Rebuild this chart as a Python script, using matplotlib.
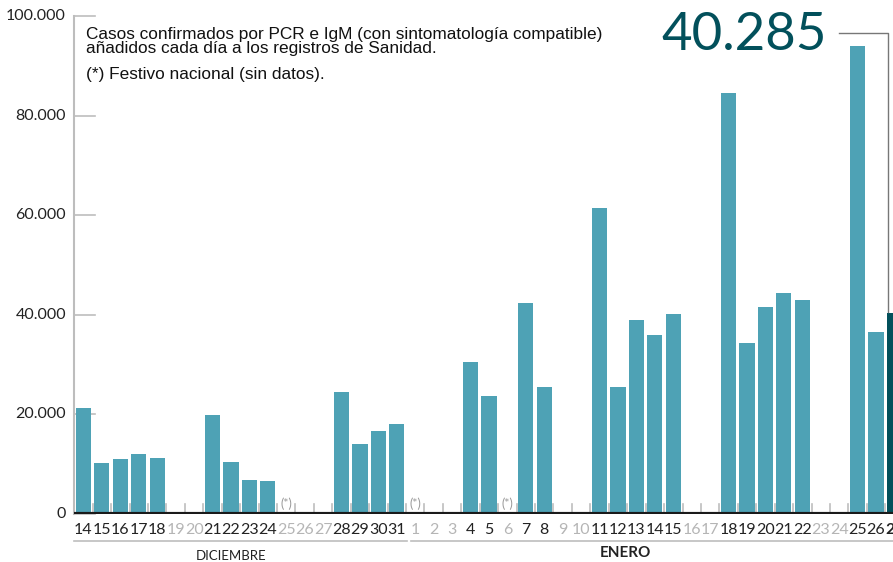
import matplotlib
matplotlib.use("Agg")
import matplotlib.pyplot as plt

# ---- data ----
day_labels = ["14","15","16","17","18","19","20","21","22","23","24","25","26","27","28","29","30","31",
              "1","2","3","4","5","6","7","8","9","10","11","12","13","14","15","16","17","18","19","20",
              "21","22","23","24","25","26","27"]
cases = [21300,10200,11000,12000,11200,None,None,19900,10400,6800,6600,None,None,None,24500,14000,16700,18100,
         None,None,None,30500,23700,None,42400,25500,None,None,61400,25500,39000,36000,40200,None,None,84500,
         34300,41600,44400,43000,None,None,94000,36500,40285]
holidays = [11, 18, 23]   # 25 Dic, 1 Ene, 6 Ene
last_value = 40285
y_ticks = [0, 20000, 40000, 60000, 80000, 100000]
y_tick_labels = ["0", "20.000", "40.000", "60.000", "80.000", "100.000"]
months = ["DICIEMBRE", "ENERO"]

BAR = "#4ea2b5"
DARK = "#02505b"
GREY = "#bdbdbd"
TXT = "#222222"
NUMFONT = ["Lato", "DejaVu Sans"]
TEXTFONT = ["Liberation Sans", "DejaVu Sans"]

W, H = 893, 562
fig = plt.figure(figsize=(W/100, H/100), dpi=100)
x0, x1, ytop, ybot = 74, 893, 16, 514
ax = fig.add_axes([x0/W, (H-ybot)/H, (x1-x0)/W, (ybot-ytop)/H])
ax.set_xlim(-0.515, 43.92)
ax.set_ylim(0, 100000)
for s in ax.spines.values():
    s.set_visible(False)
ax.set_xticks([]); ax.set_yticks([])

n = len(day_labels)
# short grid segments at y ticks
for v, lab in zip(y_ticks, y_tick_labels):
    ax.plot([-0.515, 0.6], [v, v], color=GREY, lw=1.2, zorder=1, clip_on=False)
    ax.text(-0.95, v, lab, ha="right", va="center",
            fontsize=11.5, color=TXT, family=NUMFONT)
# vertical axis line
ax.plot([-0.515, -0.515], [0, 100000], color=GREY, lw=1.5, zorder=1, clip_on=False)
# slot ticks
for i in range(n + 1):
    ax.plot([i - 0.5, i - 0.5], [0, 2100], color=GREY, lw=1.2, zorder=1)

for i, v in enumerate(cases):
    if v is None:
        continue
    c = DARK if i == n - 1 else BAR
    ax.bar(i, v, width=0.82, color=c, zorder=2)

# baseline
ax.plot([-0.515, 43.92], [0, 0], color="#1a1a1a", lw=3, zorder=3, solid_capstyle="butt")

# x labels
for i, lab in enumerate(day_labels):
    col = TXT if cases[i] is not None else "#b5b5b5"
    weight = "bold" if i == n - 1 else "normal"
    ax.text(i, -1800, lab, ha="center", va="top", fontsize=11.5, color=col,
            family=NUMFONT, weight=weight, clip_on=False)

for h in holidays:
    ax.text(h, 2000, "(*)", ha="center", va="center", fontsize=9, color="#999999",
            family=NUMFONT)

# month separators
def px2y(py):
    return (ybot - py) / (ybot - ytop) * 100000
ax.plot([-0.515, 17.55], [px2y(541)] * 2, color=GREY, lw=1.2, clip_on=False)
ax.plot([17.75, 43.92], [px2y(541)] * 2, color=GREY, lw=1.2, clip_on=False)
ax.text(8.0, px2y(556), months[0], ha="center", va="center", fontsize=9.5,
        color=TXT, family=NUMFONT, clip_on=False)
ax.text(29.4, px2y(553), months[1], ha="center", va="center", fontsize=11,
        color=TXT, family=NUMFONT, weight="bold", clip_on=False)

# note
ax.text(0.15, px2y(27), "Casos confirmados por PCR e IgM (con sintomatología compatible)\n"
        "añadidos cada día a los registros de Sanidad.",
        ha="left", va="top", fontsize=12.4, color="#111111", family=TEXTFONT,
        linespacing=0.92)
ax.text(0.15, px2y(67), "(*) Festivo nacional (sin datos).", ha="left", va="top",
        fontsize=12.4, color="#111111", family=TEXTFONT)

# big annotation
lbl = f"{last_value:,}".replace(",", ".")
fig.text(827/W, (H-35)/H, lbl, ha="right", va="center", fontsize=38,
         color=DARK, family=NUMFONT, weight="normal")
xl = n - 1 - 0.33
ax.plot([41.0, xl, xl], [px2y(33), px2y(33), last_value + 300],
        color="#777777", lw=1, clip_on=False, zorder=4)

fig.savefig("out.png", dpi=100)
